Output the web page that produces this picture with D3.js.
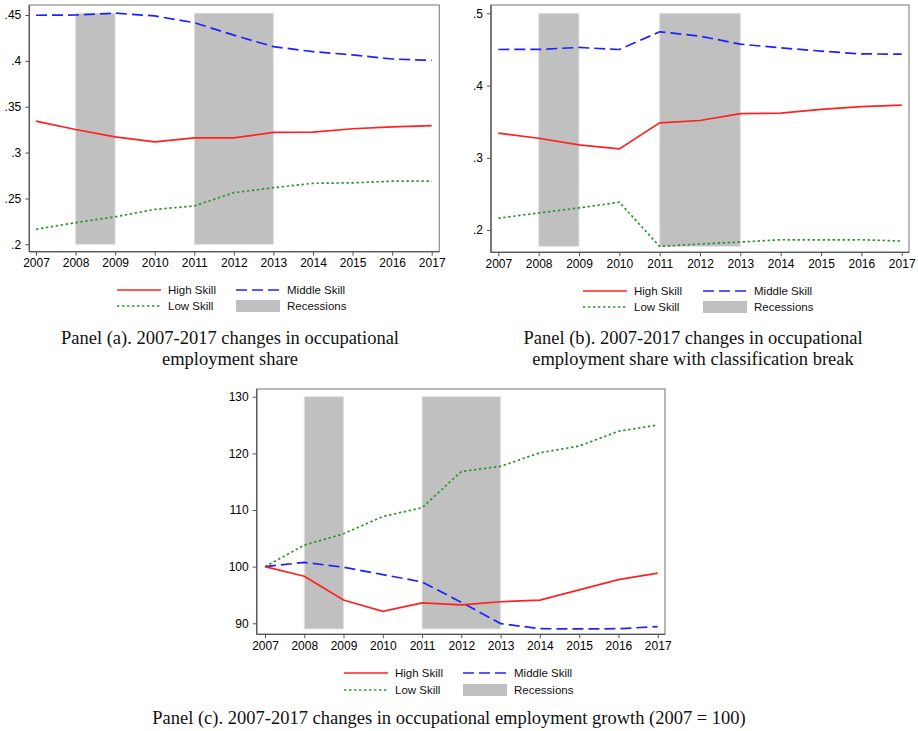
<!DOCTYPE html>
<html>
<head>
<meta charset="utf-8">
<script src="https://cdn.jsdelivr.net/npm/d3@7/dist/d3.min.js"></script>
<style>
  html, body { margin: 0; padding: 0; background: #fff; }
  svg { display: block; }
</style>
</head>
<body>
<svg id="chart" width="918" height="731"></svg>
<script>
// ---------------- DATA ----------------
const years = [2007, 2008, 2009, 2010, 2011, 2012, 2013, 2014, 2015, 2016, 2017];
const xTickLabels = ["2007","2008","2009","2010","2011","2012","2013","2014","2015","2016","2017"];

const recessions = [[2008, 2009], [2011, 2013]];

// Panel (a): employment share
const highA   = [0.3343, 0.3252, 0.3172, 0.3117, 0.3160, 0.3160, 0.3220, 0.3222, 0.3260, 0.3280, 0.3293];
const middleA = [0.4497, 0.4500, 0.4520, 0.4490, 0.4416, 0.4280, 0.4155, 0.4100, 0.4065, 0.4020, 0.4005];
const lowA    = [0.2164, 0.2236, 0.2300, 0.2380, 0.2418, 0.2563, 0.2617, 0.2665, 0.2670, 0.2688, 0.2688];
const yTicksA = [0.2, 0.25, 0.3, 0.35, 0.4, 0.45];
const yTickLabelsA = [".2", ".25", ".3", ".35", ".4", ".45"];
const recBandA = [0.2, 0.452];

// Panel (b): employment share with classification break
const highB   = [0.3340, 0.3270, 0.3178, 0.3122, 0.3484, 0.3516, 0.3610, 0.3618, 0.3670, 0.3707, 0.3730];
const middleB = [0.4499, 0.4500, 0.4527, 0.4499, 0.4744, 0.4684, 0.4573, 0.4522, 0.4476, 0.4438, 0.4434];
const lowB    = [0.2163, 0.2236, 0.2306, 0.2385, 0.1773, 0.1806, 0.1833, 0.1865, 0.1862, 0.1865, 0.1847];
const yTicksB = [0.2, 0.3, 0.4, 0.5];
const yTickLabelsB = [".2", ".3", ".4", ".5"];
const recBandB = [0.1773, 0.5];

// Panel (c): employment growth (2007 = 100)
const highC   = [100, 98.3, 94.1, 92.1, 93.6, 93.25, 93.8, 94.1, 95.9, 97.7, 98.85];
const middleC = [100, 100.75, 99.9, 98.6, 97.3, 93.7, 89.95, 89.05, 89.0, 89.05, 89.4];
const lowC    = [100, 103.8, 105.8, 108.85, 110.4, 116.8, 117.7, 120.1, 121.3, 123.9, 125.0];
const yTicksC = [90, 100, 110, 120, 130];
const yTickLabelsC = ["90", "100", "110", "120", "130"];
const recBandC = [89.0, 130];

const seriesNames = ["High Skill", "Middle Skill", "Low Skill", "Recessions"];
const captionA = ["Panel (a). 2007-2017 changes in occupational", "employment share"];
const captionB = ["Panel (b). 2007-2017 changes in occupational", "employment share with classification break"];
const captionC = ["Panel (c). 2007-2017 changes in occupational employment growth (2007 = 100)"];

// ---------------- STYLE ----------------
const COL_HIGH = "#ff2020";
const COL_MID = "#2020ff";
const COL_LOW = "#2a962a";
const COL_REC = "#c0c0c0";
const SANS = "'Liberation Sans', Arial, Helvetica, sans-serif";
const SERIF = "'Liberation Serif', 'Times New Roman', Times, serif";

const svg = d3.select("#chart");

function drawPanel(cfg) {
  const g = svg.append("g");
  const x = d3.scaleLinear().domain([years[0], years[years.length - 1]]).range(cfg.xr);
  const y = d3.scaleLinear().domain(cfg.yd).range(cfg.yr);
  const f = cfg.frame; // [left, top, right, bottom]

  // plot region background + frame
  g.append("rect").attr("x", f[0]).attr("y", f[1]).attr("width", f[2] - f[0]).attr("height", f[3] - f[1])
    .attr("fill", "#fff").attr("stroke", "#8a8a8a").attr("stroke-width", 1.2);

  // recession bars
  g.selectAll("rect.rec").data(recessions).enter().append("rect")
    .attr("class", "rec")
    .attr("x", d => x(d[0]))
    .attr("width", d => x(d[1]) - x(d[0]))
    .attr("y", y(cfg.band[1]))
    .attr("height", y(cfg.band[0]) - y(cfg.band[1]))
    .attr("fill", COL_REC)
    .attr("stroke", "#e2e2e2").attr("stroke-width", 1);

  const line = vals => d3.line().x((d, i) => x(years[i])).y(d => y(d))(vals);

  g.append("path").attr("d", line(cfg.low)).attr("fill", "none")
    .attr("stroke", COL_LOW).attr("stroke-width", 1.7).attr("stroke-dasharray", "2.4,2.6");
  g.append("path").attr("d", line(cfg.middle)).attr("fill", "none")
    .attr("stroke", COL_MID).attr("stroke-width", 1.7).attr("stroke-dasharray", "11,5");
  g.append("path").attr("d", line(cfg.high)).attr("fill", "none")
    .attr("stroke", COL_HIGH).attr("stroke-width", 1.7);

  // axes
  const xAxis = d3.axisBottom(x).tickValues(years).tickFormat((d, i) => xTickLabels[i])
    .tickSizeInner(4).tickSizeOuter(0).tickPadding(3);
  const gx = g.append("g").attr("transform", `translate(0,${f[3]})`).call(xAxis);
  gx.select(".domain").attr("d", `M${f[0]},0H${f[2]}`).attr("stroke", "#555").attr("stroke-width", 1.3);
  gx.selectAll(".tick line").attr("stroke", "#555").attr("stroke-width", 1);
  gx.selectAll(".tick text").attr("font-family", SANS).attr("font-size", "12px").attr("fill", "#000");

  const yAxis = d3.axisLeft(y).tickValues(cfg.yTicks).tickFormat((d, i) => cfg.yLabels[i])
    .tickSizeInner(4).tickSizeOuter(0).tickPadding(4);
  const gy = g.append("g").attr("transform", `translate(${f[0]},0)`).call(yAxis);
  gy.select(".domain").attr("d", `M0,${f[1]}V${f[3]}`).attr("stroke", "#555").attr("stroke-width", 1.3);
  gy.selectAll(".tick line").attr("stroke", "#555").attr("stroke-width", 1);
  gy.selectAll(".tick text").attr("font-family", SANS).attr("font-size", "12px").attr("fill", "#000");

  // legend
  const L = cfg.legend;
  const lg = g.append("g").attr("font-family", SANS).attr("font-size", "11.5px").attr("fill", "#111");
  const items = [
    {name: seriesNames[0], col: 0, row: 0, type: "line", color: COL_HIGH, dash: null},
    {name: seriesNames[1], col: 1, row: 0, type: "line", color: COL_MID, dash: "11,5"},
    {name: seriesNames[2], col: 0, row: 1, type: "line", color: COL_LOW, dash: "2.4,2.6"},
    {name: seriesNames[3], col: 1, row: 1, type: "rect", color: COL_REC}
  ];
  items.forEach(it => {
    const sx = it.col === 0 ? L.x1 : L.x2;
    const sy = it.row === 0 ? L.y1 : L.y2;
    if (it.type === "line") {
      const ln = lg.append("line").attr("x1", sx).attr("x2", sx + 44).attr("y1", sy).attr("y2", sy)
        .attr("stroke", it.color).attr("stroke-width", 1.7);
      if (it.dash) ln.attr("stroke-dasharray", it.dash);
    } else {
      lg.append("rect").attr("x", sx).attr("y", sy - 6).attr("width", 44).attr("height", 12)
        .attr("fill", it.color);
    }
    lg.append("text").attr("x", sx + 51).attr("y", sy).attr("dy", "0.35em").text(it.name);
  });

  // caption
  const cg = g.append("g").attr("font-family", SERIF).attr("font-size", "18.5px").attr("fill", "#111")
    .attr("text-anchor", "middle");
  cfg.caption.forEach((t, i) => {
    cg.append("text").attr("x", cfg.capX).attr("y", cfg.capY + i * 21).text(t);
  });
}

drawPanel({
  xr: [36, 431.7], yd: [0.2, 0.45], yr: [244.3, 15], frame: [29.3, 5, 439.3, 251.7],
  high: highA, middle: middleA, low: lowA, band: recBandA,
  yTicks: yTicksA, yLabels: yTickLabelsA,
  legend: {x1: 117, x2: 236, y1: 290, y2: 306},
  caption: captionA, capX: 230, capY: 344
});

drawPanel({
  xr: [498.3, 901.7], yd: [0.2, 0.5], yr: [230, 13.3], frame: [491, 5, 909, 252.3],
  high: highB, middle: middleB, low: lowB, band: recBandB,
  yTicks: yTicksB, yLabels: yTickLabelsB,
  legend: {x1: 583, x2: 703, y1: 291, y2: 307},
  caption: captionB, capX: 693, capY: 344
});

drawPanel({
  xr: [265, 657.7], yd: [90, 130], yr: [623.3, 396.7], frame: [256.7, 389, 665, 634.3],
  high: highC, middle: middleC, low: lowC, band: recBandC,
  yTicks: yTicksC, yLabels: yTickLabelsC,
  legend: {x1: 344, x2: 463, y1: 673, y2: 690},
  caption: captionC, capX: 449, capY: 724
});
</script>
</body>
</html>
